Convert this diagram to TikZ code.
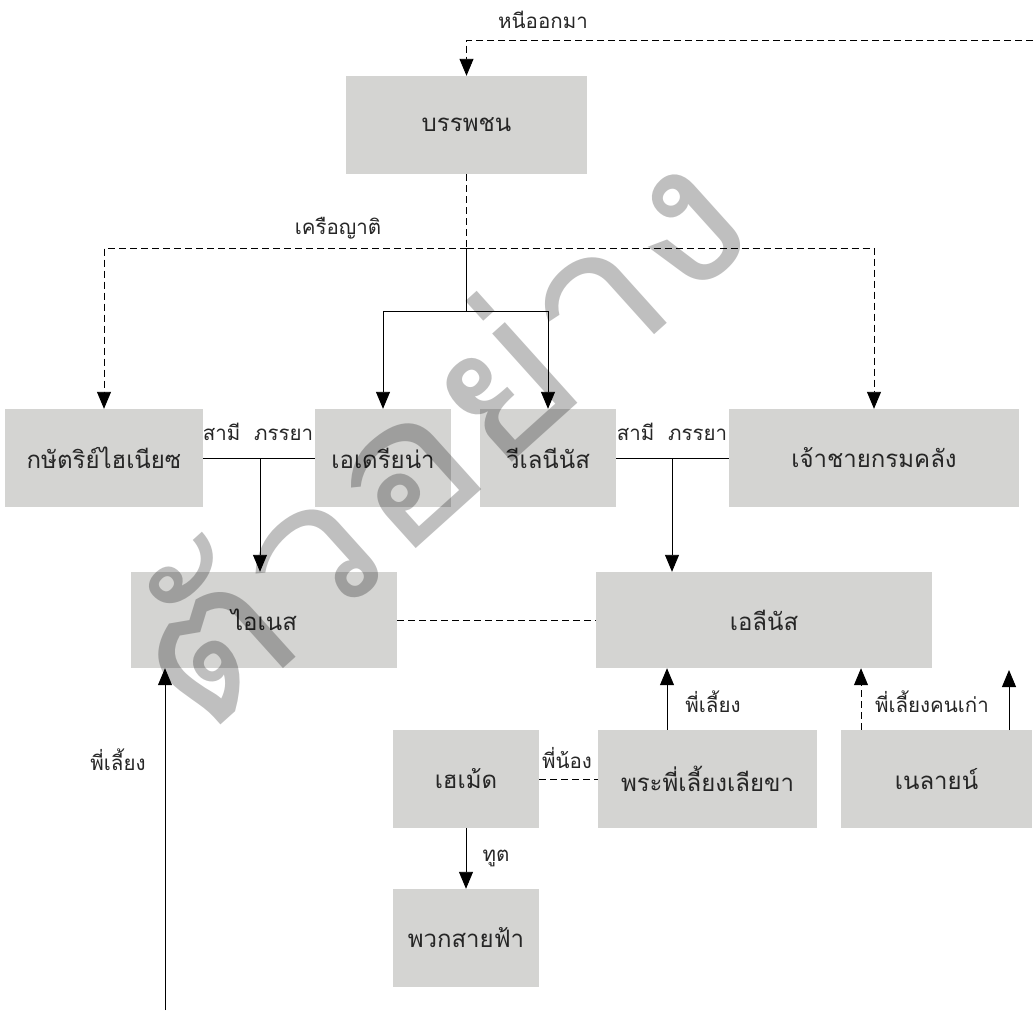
\documentclass[tikz,border=0pt]{standalone}
\usepackage{fontspec}
\newfontfamily\thaifont[Script=Thai]{Loma}
\usetikzlibrary{arrows.meta}
\definecolor{boxgray}{RGB}{212,212,210}
\begin{document}
\begin{tikzpicture}[x=1pt,y=-1pt,
  box/.style={fill=boxgray, inner sep=0pt, text=black!85, font=\thaifont\fontsize{24}{28}\selectfont},
  lbl/.style={inner sep=0pt, text=black!85, font=\thaifont\fontsize{20.5}{24}\selectfont},
  conn/.style={draw=black, line width=0.9pt},
  dsh/.style={conn, dash pattern=on 7pt off 4pt},
  arr/.style={-{Triangle[width=14pt,length=17pt]}}
]
\useasboundingbox (0,0) rectangle (1033,1010);

% boxes
\node[box, minimum width=241pt, minimum height=98pt] (bp) at (466.5,125) {บรรพชน};
\node[box, minimum width=198pt, minimum height=98pt] (king) at (104,458) {กษัตริย์ไฮเนียซ};
\node[box, minimum width=136pt, minimum height=98pt] (adr) at (383,458) {เอเดรียน่า};
\node[box, minimum width=136pt, minimum height=98pt] (vil) at (548,458) {วีเลนีนัส};
\node[box, minimum width=290pt, minimum height=98pt] (prince) at (874,458) {เจ้าชายกรมคลัง};
\node[box, minimum width=266pt, minimum height=96pt] (ines) at (264,620) {ไอเนส};
\node[box, minimum width=336pt, minimum height=96pt] (eli) at (764,620) {เอลีนัส};
\node[box, minimum width=146pt, minimum height=98pt] (hem) at (466,779) {เฮเม้ด};
\node[box, minimum width=219pt, minimum height=98pt] (nurse) at (707.5,779) {พระพี่เลี้ยงเลียขา};
\node[box, minimum width=191pt, minimum height=98pt] (nel) at (936.5,779) {เนลายน์};
\node[box, minimum width=146pt, minimum height=98pt] (thun) at (466,938) {พวกสายฟ้า};

% coordinates
\coordinate (topR) at (1033,40);
\coordinate (j1) at (466.5,248);
\coordinate (j2) at (466.5,311);
\coordinate (m1) at (260,458);
\coordinate (m2) at (672,458);
\coordinate (bot) at (165,1010);
\coordinate (nelR) at (1009,730);
\coordinate (nelRend) at (1009,670);

% connectors
\draw[dsh, arr] (topR) -| (bp.north);
\draw[dsh] (bp.south) -- (j1);
\draw[conn] (j1) -- (j2);
\draw[dsh, arr] (j1) -| (king.north);
\draw[dsh, arr] (j1) -| (prince.north);
\draw[conn, arr] (j2) -| (adr.north);
\draw[conn, arr] (j2) -| (vil.north);
\draw[conn] (king.east) -- (adr.west);
\draw[conn, arr] (m1) -- (m1 |- ines.north);
\draw[conn] (vil.east) -- (prince.west);
\draw[conn, arr] (m2) -- (m2 |- eli.north);
\draw[dsh] (ines.east) -- (eli.west);
\draw[conn, arr] (bot) -- (bot |- ines.south);
\draw[dsh] (hem.east) -- (nurse.west);
\draw[conn, arr] (hem.south) -- (thun.north);
\draw[conn, arr] ([xshift=-40.5pt]nurse.north) -- ([xshift=-40.5pt]nurse.north |- eli.south);
\draw[dsh, arr] ([xshift=-75.5pt]nel.north) -- ([xshift=-75.5pt]nel.north |- eli.south);
\draw[conn, arr] (nelR) -- (nelRend);

% labels
\node[lbl] (l1) at (543,20) {หนีออกมา};
\node[lbl] (l2) at (338,228) {เครือญาติ};
\node[lbl] (l3) at (258,432) {สามี\ \ ภรรยา};
\node[lbl] (l4) at (672,432) {สามี\ \ ภรรยา};
\node[lbl] (l5) at (118,760) {พี่เลี้ยง};
\node[lbl] (l6) at (567,758) {พี่น้อง};
\node[lbl] (l7) at (496,858) {ทูต};
\node[lbl] (l8) at (713,702) {พี่เลี้ยง};
\node[lbl] (l9) at (932,702) {พี่เลี้ยงคนเก่า};

% watermark
\node[rotate=42, xscale=1.12, opacity=0.25, inner sep=0pt, font=\thaifont\fontsize{195}{195}\selectfont] (wm) at (430,432) {ตัวอย่าง};
\end{tikzpicture}
\end{document}
